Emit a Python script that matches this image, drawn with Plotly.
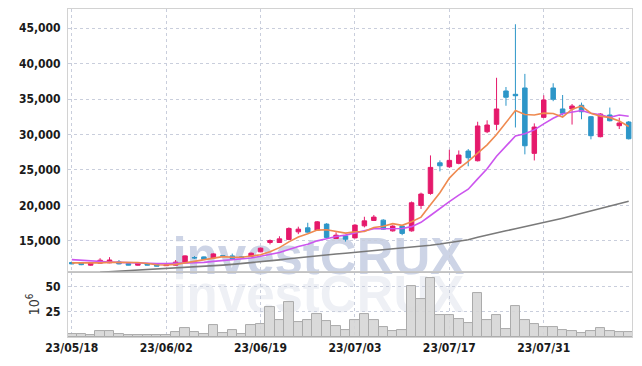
import plotly.graph_objects as go

dates = [
    "23/05/18", "23/05/19", "23/05/22", "23/05/23", "23/05/24", "23/05/25", "23/05/26", "23/05/30", "23/05/31", "23/06/01",
    "23/06/02", "23/06/05", "23/06/07", "23/06/08", "23/06/09", "23/06/12", "23/06/13", "23/06/14", "23/06/15", "23/06/16",
    "23/06/19", "23/06/20", "23/06/21", "23/06/22", "23/06/23", "23/06/26", "23/06/27", "23/06/28", "23/06/29", "23/06/30",
    "23/07/03", "23/07/04", "23/07/05", "23/07/06", "23/07/07", "23/07/10", "23/07/11", "23/07/12", "23/07/13", "23/07/14",
    "23/07/17", "23/07/18", "23/07/19", "23/07/20", "23/07/21", "23/07/24", "23/07/25", "23/07/26", "23/07/27", "23/07/28",
    "23/07/31", "23/08/01", "23/08/02", "23/08/03", "23/08/04", "23/08/07", "23/08/08", "23/08/09", "23/08/10", "23/08/11",
]

open_ = [
    11950, 11920, 11570, 11850, 11900, 12030, 11800, 11570, 11800, 11700,
    11500, 11570, 12030, 12650, 12740, 12600, 12900, 12880, 12750, 12840,
    13450, 14770, 14770, 15200, 16270, 16840, 16510, 17360, 15340, 15700,
    15420, 17120, 17880, 17920, 16410, 17080, 16410, 20000, 21690, 26010,
    25450, 25930, 27670, 26300, 30390, 31440, 36140, 35670, 36560, 27340,
    32420, 36560, 33600, 33600, 34120, 32510, 29690, 32750, 31240, 31760,
]
high = [
    12000, 11950, 11950, 12550, 12700, 12300, 11850, 11950, 11850, 11750,
    11750, 12300, 12950, 12850, 12800, 13250, 13000, 13200, 12850, 13350,
    14050, 15200, 15650, 16900, 17000, 17550, 17800, 17500, 16200, 15850,
    17350, 18400, 18650, 18050, 17200, 17200, 20550, 21800, 27050, 26350,
    27850, 27750, 27950, 31800, 32000, 38000, 36700, 45550, 38550, 31570,
    35530, 37230, 35570, 34300, 34500, 32600, 33000, 33800, 32370, 31900,
]
low = [
    11700, 11570, 11500, 11800, 11850, 11700, 11550, 11500, 11550, 11400,
    11450, 11500, 12000, 12450, 12300, 12550, 12800, 12400, 12500, 12800,
    13400, 14500, 14700, 15100, 15950, 16150, 16400, 15400, 15300, 14900,
    15350, 16900, 17800, 16550, 16300, 15800, 16300, 19500, 21500, 24800,
    25300, 25800, 25520, 26200, 30200, 30600, 34050, 30990, 27200, 26340,
    32300, 34700, 32670, 31400, 32150, 29320, 29600, 31850, 30770, 29300,
]
close = [
    11750, 11640, 11890, 12270, 12300, 11750, 11570, 11850, 11570, 11420,
    11600, 12000, 12880, 12600, 12370, 13160, 12850, 12460, 12650, 13260,
    13970, 15050, 15280, 16750, 16650, 16230, 17680, 15480, 15800, 15240,
    17220, 17820, 18350, 16650, 17080, 16050, 20370, 21600, 25360, 25590,
    26350, 27100, 26720, 31200, 31340, 33600, 35250, 35470, 28410, 31050,
    34870, 34970, 32990, 34020, 33210, 29830, 32890, 31940, 31620, 29400,
]

ma5 = [
    11900, 11880, 11850, 11900, 11970, 11970, 11956, 11948, 11808, 11632,
    11602, 11688, 11894, 12100, 12290, 12602, 12772, 12688, 12698, 12876,
    13038, 13478, 14042, 14862, 15540, 15992, 16518, 16558, 16368, 16086,
    16284, 16312, 16886, 17056, 17424, 17190, 17700, 18350, 20092, 21794,
    23854, 25200, 26224, 27392, 28542, 29992, 31622, 33372, 32814, 32756,
    33010, 32954, 32458, 33580, 34012, 33004, 32588, 32378, 31898, 31136,
]
ma10 = [
    12350, 12250, 12150, 12080, 12020, 11960, 11900, 11850, 11820, 11801,
    11786, 11822, 11921, 11954, 11961, 12102, 12230, 12291, 12399, 12583,
    12820, 13125, 13365, 13780, 14208, 14515, 14998, 15300, 15615, 15813,
    16138, 16415, 16722, 16712, 16755, 16737, 17006, 17618, 18574, 19609,
    20522, 21450, 22287, 23742, 25168, 26923, 28411, 29798, 30103, 30649,
    31501, 32288, 32915, 33197, 33384, 33007, 32771, 32418, 32739, 32574,
]
ma60 = [
    None, None, None, 10580, 10650, 10720, 10790, 10860, 10930, 11000,
    11070, 11140, 11220, 11300, 11390, 11480, 11580, 11680, 11790, 11900,
    12040, 12180, 12320, 12470, 12620, 12760, 12900, 13020, 13140, 13260,
    13380, 13490, 13600, 13710, 13820, 13940, 14080, 14230, 14390, 14550,
    14720, 14930, 15160, 15500, 15830, 16150, 16420, 16700, 16990, 17280,
    17520, 17850, 18200, 18530, 18860, 19200, 19550, 19900, 20250, 20600,
]
volume = [
    3.0, 3.0, 2.0, 5.9, 5.9, 3.3, 2.0, 2.0, 2.0, 2.0,
    1.8, 5.0, 8.8, 5.0, 3.0, 11.7, 4.3, 6.9, 3.0, 11.7,
    13.0, 29.6, 16.6, 35.1, 15.0, 16.6, 22.4, 15.6, 11.1, 6.9,
    16.8, 22.4, 16.6, 9.5, 5.9, 6.9, 50.7, 38.0, 58.5, 21.5,
    21.5, 17.6, 14.0, 43.9, 16.6, 21.5, 7.9, 31.2, 16.6, 12.7,
    10.1, 10.1, 6.9, 5.9, 4.0, 5.9, 8.8, 5.9, 5.0, 5.0,
]

price_ticks = [15000, 20000, 25000, 30000, 35000, 40000, 45000]
volume_ticks = [25, 50]
x_ticks = dates[::10]
watermark = "investCRUX"

UP = "#e5196b"
DOWN = "#2d96c8"
GRID = "#c9cedc"
FRAME = "#d2d2d2"
FONT_FAMILY = "DejaVu Sans Condensed, Liberation Sans Narrow, sans-serif"
TICKFONT = dict(family=FONT_FAMILY, size=12, color="#1a1a1a", weight="bold")

fig = go.Figure()

fig.add_trace(go.Bar(
    x=dates, y=volume, xaxis="x", yaxis="y2",
    marker=dict(color="rgba(214,214,214,0.9)", line=dict(color="#ababab", width=1)),
    showlegend=False, hoverinfo="skip",
))
fig.add_trace(go.Scatter(
    x=dates, y=ma60, xaxis="x2", yaxis="y", mode="lines",
    line=dict(color="#7a7a7a", width=1.6), showlegend=False, hoverinfo="skip",
))
fig.add_trace(go.Scatter(
    x=dates, y=ma10, xaxis="x2", yaxis="y", mode="lines",
    line=dict(color="#cc55ee", width=1.6), showlegend=False, hoverinfo="skip",
))
fig.add_trace(go.Scatter(
    x=dates, y=ma5, xaxis="x2", yaxis="y", mode="lines",
    line=dict(color="#ef8a50", width=1.6), showlegend=False, hoverinfo="skip",
))
fig.add_trace(go.Candlestick(
    x=dates, open=open_, high=high, low=low, close=close,
    xaxis="x2", yaxis="y",
    increasing=dict(line=dict(color=UP, width=1), fillcolor=UP),
    decreasing=dict(line=dict(color=DOWN, width=1), fillcolor=DOWN),
    whiskerwidth=0, showlegend=False,
))

vol_top = 0.198
xrange = [-0.4, 59.35]
common_x = dict(
    type="category", range=xrange, showgrid=True, gridcolor=GRID, griddash="dot",
    gridwidth=1, tickvals=x_ticks, showline=True, linecolor=FRAME, mirror=True,
    zeroline=False, fixedrange=True, automargin=False,
)
common_y = dict(
    showgrid=True, gridcolor=GRID, griddash="dot", showline=True, linecolor=FRAME,
    mirror=True, zeroline=False, ticks="outside", ticklen=4,
    tickcolor="rgba(0,0,0,0)", tickfont=TICKFONT, automargin=False,
)

fig.update_layout(
    width=642, height=366,
    margin=dict(l=68, r=10, t=9, b=29),
    paper_bgcolor="white", plot_bgcolor="white",
    boxgap=0.32,
    xaxis=dict(common_x, anchor="y2", domain=[0, 1], ticks="", tickfont=TICKFONT),
    xaxis2=dict(common_x, anchor="y", domain=[0, 1], matches="x", showticklabels=False,
                rangeslider=dict(visible=False)),
    yaxis=dict(common_y, domain=[vol_top, 1], range=[10600, 47700],
               tickvals=price_ticks, tickformat=","),
    yaxis2=dict(common_y, domain=[0, vol_top], range=[0, 64.6], tickvals=volume_ticks,
                title=dict(text="10<sup>6</sup>", standoff=2,
                           font=dict(family=FONT_FAMILY, size=14, color="#333333"))),
    bargap=0,
    shapes=[
        dict(type="rect", xref="paper", yref="paper", x0=0.144, x1=0.744, y0=0.162, y1=0.362,
             line=dict(width=0), fillcolor="rgba(0,0,0,0)", layer="below",
             label=dict(text=watermark, textposition="middle center",
                        font=dict(family="Liberation Sans, Arial, sans-serif", size=51,
                                  color="#cdd4e6", weight="bold"))),
        dict(type="rect", xref="paper", yref="paper", x0=0.144, x1=0.744, y0=0.045, y1=0.245,
             line=dict(width=0), fillcolor="rgba(0,0,0,0)", layer="below",
             label=dict(text=watermark, textposition="middle center",
                        font=dict(family="Liberation Sans, Arial, sans-serif", size=51,
                                  color="#eef0f5", weight="bold"))),
        dict(type="line", xref="paper", yref="paper", x0=0, x1=1, y0=vol_top, y1=vol_top,
             line=dict(color="#bdbdbd", width=1.2)),
    ],
)

fig.write_html("out.html", post_script="document.body.style.margin='0';",
               config={"displayModeBar": False})
